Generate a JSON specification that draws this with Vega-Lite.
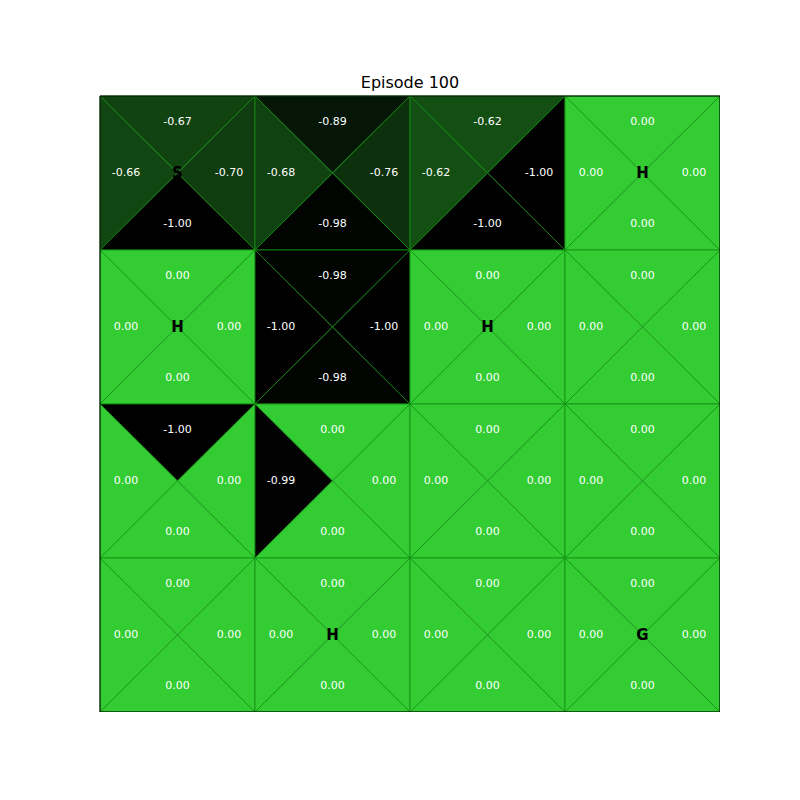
{
  "$schema": "https://vega.github.io/schema/vega-lite/v6.json",
  "width": 620,
  "height": 616,
  "padding": {"left": 100, "top": 96, "right": 0, "bottom": 0},
  "autosize": {"type": "none"},
  "title": {"text": "Episode 100", "font": "DejaVu Sans", "fontSize": 16, "fontWeight": "normal", "color": "#000000", "offset": 3},
  "config": {
    "view": {"stroke": "#000000", "strokeWidth": 1},
    "locale": {"number": {"decimal": ".", "thousands": ",", "grouping": [3], "currency": ["$", ""], "minus": "-"}}
  },
  "datasets": {
    "q": [
      {"row": 0, "col": 0, "dir": "up", "value": -0.67},
      {"row": 0, "col": 0, "dir": "left", "value": -0.66},
      {"row": 0, "col": 0, "dir": "right", "value": -0.70},
      {"row": 0, "col": 0, "dir": "down", "value": -1.00},
      {"row": 0, "col": 1, "dir": "up", "value": -0.89},
      {"row": 0, "col": 1, "dir": "left", "value": -0.68},
      {"row": 0, "col": 1, "dir": "right", "value": -0.76},
      {"row": 0, "col": 1, "dir": "down", "value": -0.98},
      {"row": 0, "col": 2, "dir": "up", "value": -0.62},
      {"row": 0, "col": 2, "dir": "left", "value": -0.62},
      {"row": 0, "col": 2, "dir": "right", "value": -1.00},
      {"row": 0, "col": 2, "dir": "down", "value": -1.00},
      {"row": 0, "col": 3, "dir": "up", "value": 0},
      {"row": 0, "col": 3, "dir": "left", "value": 0},
      {"row": 0, "col": 3, "dir": "right", "value": 0},
      {"row": 0, "col": 3, "dir": "down", "value": 0},
      {"row": 1, "col": 0, "dir": "up", "value": 0},
      {"row": 1, "col": 0, "dir": "left", "value": 0},
      {"row": 1, "col": 0, "dir": "right", "value": 0},
      {"row": 1, "col": 0, "dir": "down", "value": 0},
      {"row": 1, "col": 1, "dir": "up", "value": -0.98},
      {"row": 1, "col": 1, "dir": "left", "value": -1.00},
      {"row": 1, "col": 1, "dir": "right", "value": -1.00},
      {"row": 1, "col": 1, "dir": "down", "value": -0.98},
      {"row": 1, "col": 2, "dir": "up", "value": 0},
      {"row": 1, "col": 2, "dir": "left", "value": 0},
      {"row": 1, "col": 2, "dir": "right", "value": 0},
      {"row": 1, "col": 2, "dir": "down", "value": 0},
      {"row": 1, "col": 3, "dir": "up", "value": 0},
      {"row": 1, "col": 3, "dir": "left", "value": 0},
      {"row": 1, "col": 3, "dir": "right", "value": 0},
      {"row": 1, "col": 3, "dir": "down", "value": 0},
      {"row": 2, "col": 0, "dir": "up", "value": -1.00},
      {"row": 2, "col": 0, "dir": "left", "value": 0},
      {"row": 2, "col": 0, "dir": "right", "value": 0},
      {"row": 2, "col": 0, "dir": "down", "value": 0},
      {"row": 2, "col": 1, "dir": "up", "value": 0},
      {"row": 2, "col": 1, "dir": "left", "value": -0.99},
      {"row": 2, "col": 1, "dir": "right", "value": 0},
      {"row": 2, "col": 1, "dir": "down", "value": 0},
      {"row": 2, "col": 2, "dir": "up", "value": 0},
      {"row": 2, "col": 2, "dir": "left", "value": 0},
      {"row": 2, "col": 2, "dir": "right", "value": 0},
      {"row": 2, "col": 2, "dir": "down", "value": 0},
      {"row": 2, "col": 3, "dir": "up", "value": 0},
      {"row": 2, "col": 3, "dir": "left", "value": 0},
      {"row": 2, "col": 3, "dir": "right", "value": 0},
      {"row": 2, "col": 3, "dir": "down", "value": 0},
      {"row": 3, "col": 0, "dir": "up", "value": 0},
      {"row": 3, "col": 0, "dir": "left", "value": 0},
      {"row": 3, "col": 0, "dir": "right", "value": 0},
      {"row": 3, "col": 0, "dir": "down", "value": 0},
      {"row": 3, "col": 1, "dir": "up", "value": 0},
      {"row": 3, "col": 1, "dir": "left", "value": 0},
      {"row": 3, "col": 1, "dir": "right", "value": 0},
      {"row": 3, "col": 1, "dir": "down", "value": 0},
      {"row": 3, "col": 2, "dir": "up", "value": 0},
      {"row": 3, "col": 2, "dir": "left", "value": 0},
      {"row": 3, "col": 2, "dir": "right", "value": 0},
      {"row": 3, "col": 2, "dir": "down", "value": 0},
      {"row": 3, "col": 3, "dir": "up", "value": 0},
      {"row": 3, "col": 3, "dir": "left", "value": 0},
      {"row": 3, "col": 3, "dir": "right", "value": 0},
      {"row": 3, "col": 3, "dir": "down", "value": 0}
    ],
    "cells": [
      {"row": 0, "col": 0, "label": "S"},
      {"row": 0, "col": 3, "label": "H"},
      {"row": 1, "col": 0, "label": "H"},
      {"row": 1, "col": 2, "label": "H"},
      {"row": 3, "col": 1, "label": "H"},
      {"row": 3, "col": 3, "label": "G"}
    ],
    "frame": [{"c0": 0, "c1": 3, "r0": 0, "r1": 3}]
  },
  "encoding": {
    "x": {"field": "col", "type": "ordinal", "scale": {"domain": [0, 1, 2, 3], "paddingInner": 0, "paddingOuter": 0}, "axis": null},
    "y": {"field": "row", "type": "ordinal", "scale": {"domain": [0, 1, 2, 3], "paddingInner": 0, "paddingOuter": 0}, "axis": null}
  },
  "layer": [
    {
      "data": {"name": "q"},
      "mark": {"type": "point", "filled": true, "size": 24025, "stroke": "#138f13", "strokeWidth": 0.8, "opacity": 1, "fillOpacity": 1},
      "encoding": {
        "shape": {"field": "dir", "type": "nominal", "legend": null, "scale": {"domain": ["up", "left", "right", "down"], "range": ["M -1 -0.9935 L 1 -0.9935 L 0 0 Z", "M -1 -0.9935 L 0 0 L -1 0.9935 Z", "M 1 -0.9935 L 1 0.9935 L 0 0 Z", "M -1 0.9935 L 1 0.9935 L 0 0 Z"]}},
        "fill": {"field": "value", "type": "quantitative", "legend": null, "scale": {"domain": [-1, 0], "range": ["#000000", "#33cc33"], "interpolate": "rgb"}}
      }
    },
    {
      "data": {"name": "q"},
      "transform": [{"filter": "datum.dir === 'up'"}],
      "mark": {"type": "text", "color": "#ffffff", "font": "DejaVu Sans", "fontSize": 11, "dy": -51, "baseline": "middle"},
      "encoding": {"text": {"field": "value", "type": "quantitative", "format": ".2f"}}
    },
    {
      "data": {"name": "q"},
      "transform": [{"filter": "datum.dir === 'down'"}],
      "mark": {"type": "text", "color": "#ffffff", "font": "DejaVu Sans", "fontSize": 11, "dy": 51, "baseline": "middle"},
      "encoding": {"text": {"field": "value", "type": "quantitative", "format": ".2f"}}
    },
    {
      "data": {"name": "q"},
      "transform": [{"filter": "datum.dir === 'left'"}],
      "mark": {"type": "text", "color": "#ffffff", "font": "DejaVu Sans", "fontSize": 11, "dx": -51.5, "baseline": "middle"},
      "encoding": {"text": {"field": "value", "type": "quantitative", "format": ".2f"}}
    },
    {
      "data": {"name": "q"},
      "transform": [{"filter": "datum.dir === 'right'"}],
      "mark": {"type": "text", "color": "#ffffff", "font": "DejaVu Sans", "fontSize": 11, "dx": 51.5, "baseline": "middle"},
      "encoding": {"text": {"field": "value", "type": "quantitative", "format": ".2f"}}
    },
    {
      "data": {"name": "cells"},
      "mark": {"type": "text", "color": "#000000", "font": "DejaVu Sans", "fontSize": 15, "fontWeight": "bold", "baseline": "middle"},
      "encoding": {"text": {"field": "label", "type": "nominal"}}
    },
    {
      "data": {"name": "frame"},
      "mark": {"type": "rect", "fillOpacity": 0, "fill": "#ffffff", "stroke": "#000000", "strokeWidth": 1},
      "encoding": {
        "x": {"field": "c0", "type": "ordinal", "bandPosition": 0},
        "x2": {"field": "c1", "bandPosition": 1},
        "y": {"field": "r0", "type": "ordinal", "bandPosition": 0},
        "y2": {"field": "r1", "bandPosition": 1}
      }
    }
  ]
}
